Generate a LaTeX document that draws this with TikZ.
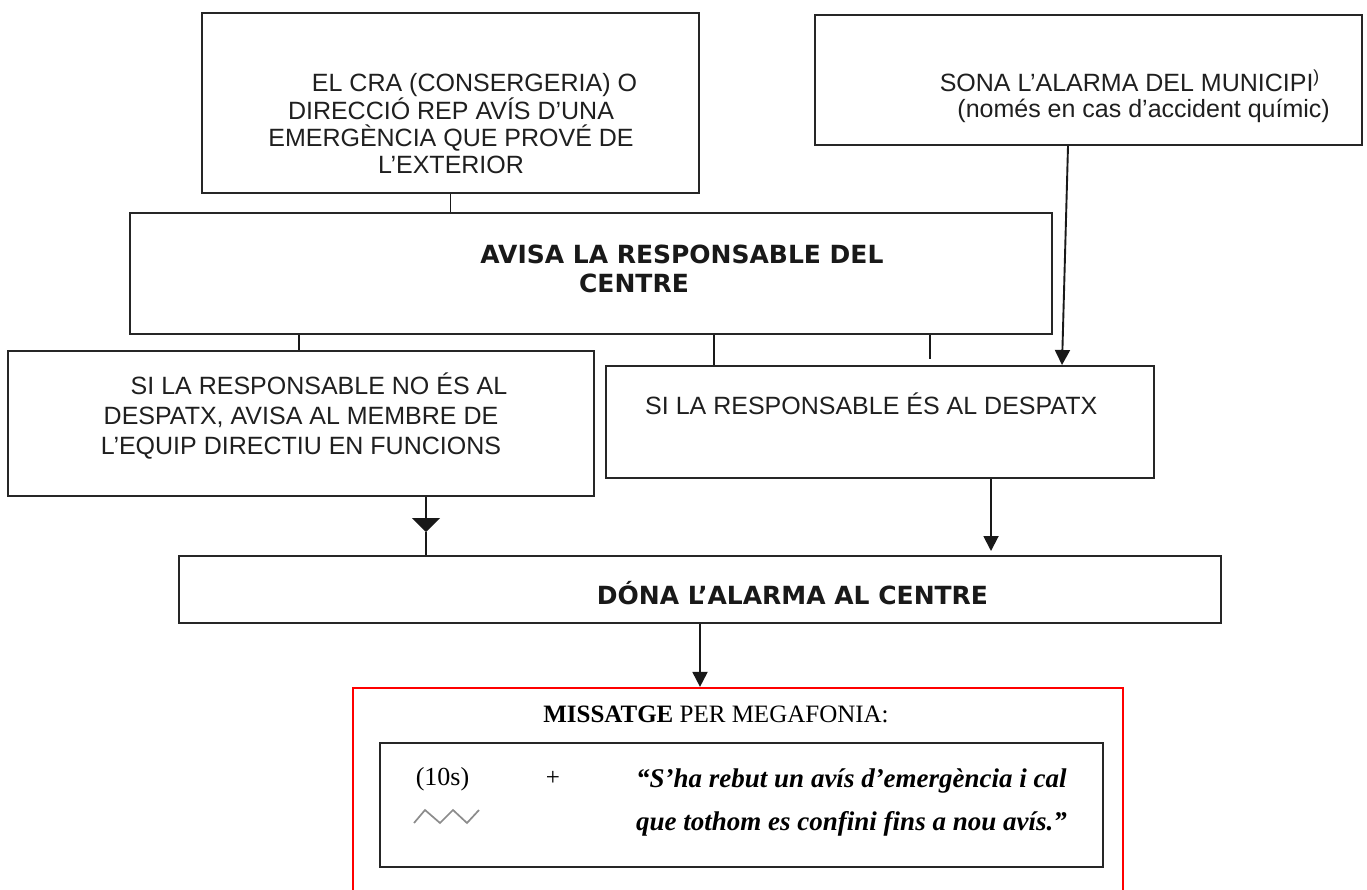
\documentclass[tikz,border=0pt]{standalone}
\usepackage{fontspec}
\setmainfont{Liberation Serif}
\setsansfont{Liberation Sans}
\newfontfamily\dejavu{DejaVu Sans}
\usetikzlibrary{arrows.meta}

\begin{document}
\begin{tikzpicture}[x=1pt,y=-1pt,
   caixa/.style={draw=black!85,line width=2pt,inner sep=0pt},
   caixa vermella/.style={draw=red,line width=2.2pt,inner sep=0pt},
   text caixa/.style={font=\sffamily\fontsize{25}{27.3}\selectfont,text=black!88,align=center,inner sep=0pt},
   text negreta/.style={font=\dejavu\bfseries\fontsize{25}{29}\selectfont,text=black!90,align=center,inner sep=0pt},
   text missatge/.style={font=\rmfamily\fontsize{25}{30}\selectfont,text=black,inner sep=0pt},
   linia/.style={line width=1.9pt,black!90},
   fletxa/.style={linia,-{Triangle[width=15pt,length=15pt]}},
   fletxa gran/.style={linia,-{Triangle[width=28pt,length=14pt]}}]

  \fill[white] (0,0) rectangle (1367,889);
  \clip (0,0) rectangle (1367,889);

  % caixes
  \node[caixa,minimum width=497pt,minimum height=180pt] (cra) at (450.5,103) {};
  \node[text caixa] (cra text) at (451,124)
    {\hspace*{47pt}EL CRA (CONSERGERIA) O\\DIRECCIÓ REP AVÍS D’UNA\\EMERGÈNCIA QUE PROVÉ DE\\L’EXTERIOR};

  \node[caixa,minimum width=547pt,minimum height=130pt] (municipi) at (1088.5,80) {};
  \node[text caixa,align=right,anchor=east,font=\sffamily\fontsize{25}{26}\selectfont] (municipi text) at (1330,96)
    {SONA L’ALARMA DEL MUNICIPI\textsuperscript{)}\hspace*{10pt}\\(només en cas d’accident químic)};

  \node[caixa,minimum width=922pt,minimum height=121pt] (avisa) at (591,273.5) {};
  \node[text negreta] (avisa text) at (682,269) {AVISA LA RESPONSABLE DEL\\CENTRE\hspace*{96pt}};

  \node[caixa,minimum width=586pt,minimum height=145pt] (noDespatx) at (301,423.5) {};
  \node[text caixa,font=\sffamily\fontsize{25}{30}\selectfont] (noDespatx text) at (301,416)
    {\hspace*{36pt}SI LA RESPONSABLE NO ÉS AL\\DESPATX, AVISA AL MEMBRE DE\\L’EQUIP DIRECTIU EN FUNCIONS};

  \node[caixa,minimum width=548pt,minimum height=112pt] (despatx) at (880,422) {};
  \node[text caixa,anchor=base west] (despatx text) at (645,414) {SI LA RESPONSABLE ÉS AL DESPATX};

  \node[caixa,minimum width=1042pt,minimum height=67pt] (dona) at (700,589.5) {};
  \node[text negreta,anchor=base] (dona text) at (792.5,604) {DÓNA L’ALARMA AL CENTRE};

  \node[caixa vermella,minimum width=770pt,minimum height=217pt] (missatge) at (738,796.5) {};
  \node[text missatge,anchor=base] (missatge text) at (716,722) {\textbf{MISSATGE} PER MEGAFONIA:};

  \node[caixa,minimum width=723pt,minimum height=124pt] (avis) at (741.5,805) {};
  \node[text missatge,anchor=base,font=\rmfamily\fontsize{26}{30}\selectfont] (sirena) at (442.5,785) {(10s)};
  \node[text missatge,anchor=base] (mes) at (553,785) {+};
  \node[text missatge,anchor=base west,font=\rmfamily\bfseries\itshape\fontsize{27}{30}\selectfont] (cita1) at (636,787)
    {“S’ha rebut un avís d’emergència i cal};
  \node[text missatge,anchor=base west,font=\rmfamily\bfseries\itshape\fontsize{27}{30}\selectfont] (cita2) at (636,830)
    {que tothom es confini fins a nou avís.”};
  \draw[black!45,line width=1.7pt] (414,823) -- (425,810) -- (440,823) -- (453,810) -- (467,823) -- (479,810);

  % connexions
  \coordinate (tall) at (930,359);
  \coordinate (punta) at (426,532);
  \draw[linia] (cra.south) -- (cra.south |- avisa.north);
  \foreach \x/\from/\to in {299/avisa/noDespatx, 714/avisa/despatx}
    \draw[linia] (\from.south -| \x,0) -- (\to.north -| \x,0);
  \draw[linia] (avisa.south -| tall) -- (tall);
  \draw[fletxa] (municipi.south -| 1068,0) -- (despatx.north -| 1062,0);
  \draw[fletxa gran] (noDespatx.south -| punta) -- (punta);
  \draw[linia] (punta) -- (dona.north -| punta);
  \draw[fletxa,shorten >=4pt] (despatx.south -| 991,0) -- (dona.north -| 991,0);
  \draw[fletxa] (dona.south -| 700,0) -- (missatge.north -| 700,0);
\end{tikzpicture}
\end{document}
